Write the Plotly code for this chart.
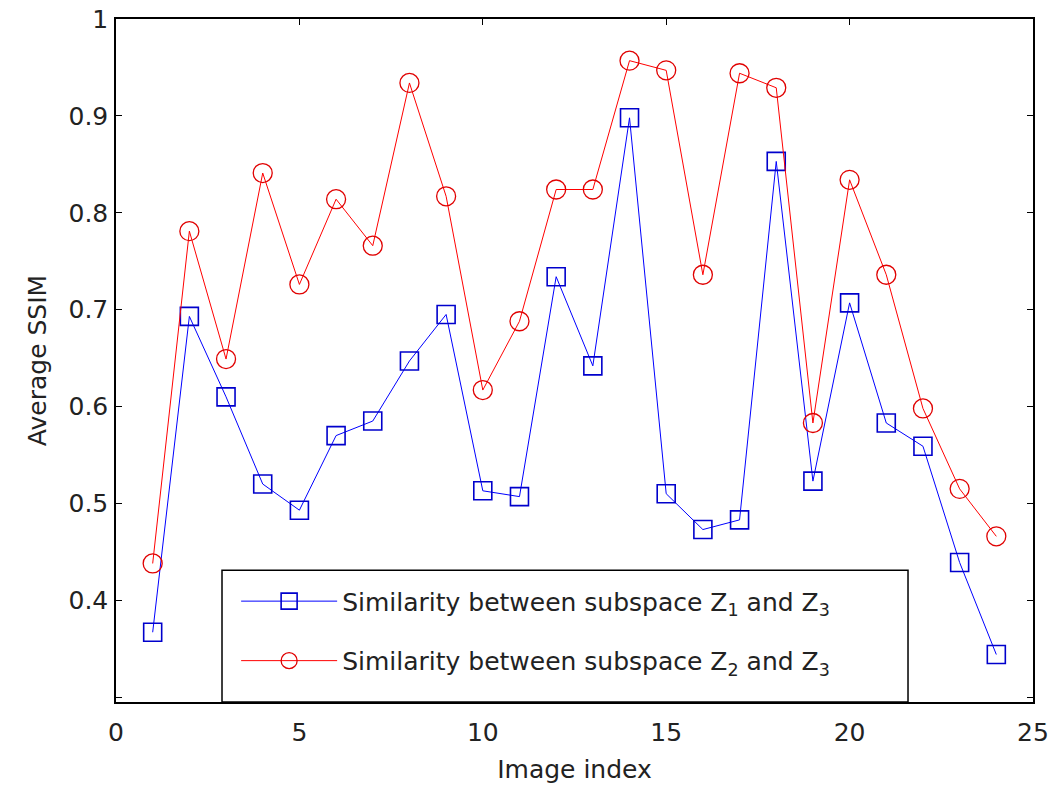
import plotly.graph_objects as go

image_index = list(range(1, 25))
ssim_z1_z3 = [0.367, 0.693, 0.610, 0.520, 0.493, 0.570, 0.585, 0.647, 0.695, 0.513,
              0.507, 0.734, 0.642, 0.898, 0.510, 0.473, 0.483, 0.853, 0.523, 0.707,
              0.583, 0.559, 0.439, 0.344]
ssim_z2_z3 = [0.438, 0.781, 0.649, 0.841, 0.726, 0.814, 0.766, 0.934, 0.817, 0.617,
              0.688, 0.824, 0.824, 0.957, 0.947, 0.736, 0.944, 0.929, 0.583, 0.834,
              0.736, 0.598, 0.515, 0.466]
name_1 = "Similarity between subspace Z<sub>1</sub> and Z<sub>3</sub>"
name_2 = "Similarity between subspace Z<sub>2</sub> and Z<sub>3</sub>"
x_ticks = [0, 5, 10, 15, 20, 25]
y_ticks = [0.3, 0.4, 0.5, 0.6, 0.7, 0.8, 0.9, 1.0]
y_ticktext = ["", "0.4", "0.5", "0.6", "0.7", "0.8", "0.9", "1"]

FONT = "DejaVu Sans"
fig = go.Figure()
fig.add_trace(go.Scatter(
    x=image_index, y=ssim_z1_z3, name=name_1, mode="lines+markers", legendgroup="a",
    line=dict(color="#0000FF", width=1),
    marker=dict(symbol="square-open", size=18, color="#0000CC", line=dict(width=1.6, color="#0000CC")),
))
fig.add_trace(go.Scatter(
    x=image_index, y=ssim_z2_z3, name=name_2, mode="lines+markers", legendgroup="b",
    line=dict(color="#FF0000", width=1),
    marker=dict(symbol="circle-open", size=19, color="#E00000", line=dict(width=1.3, color="#E00000")),
))

fig.add_shape(type="rect", xref="paper", yref="paper", x0=0.1156, x1=0.8637, y0=0, y1=0.193,
              line=dict(color="black", width=1.5), fillcolor="white", layer="above")

fig.update_layout(
    width=1060, height=787,
    margin=dict(l=116, r=27, t=19, b=85, autoexpand=False),
    paper_bgcolor="white", plot_bgcolor="white",
    font=dict(family=FONT, size=25, color="#222222"),
    showlegend=True,
    legend=dict(x=0.131, y=0.181, xanchor="left", yanchor="top", bgcolor="rgba(0,0,0,0)",
                borderwidth=0, itemwidth=96, tracegroupgap=24,
                font=dict(family=FONT, size=25, color="#222222")),
    xaxis=dict(range=[0, 25], tickvals=x_ticks, ticks="inside", ticklen=6, tickwidth=1.2,
               tickcolor="black", showline=True, linecolor="black", linewidth=1.5, mirror="ticks",
               showgrid=False, zeroline=False, ticklabelstandoff=7, automargin=False,
               ticklabeloverflow="allow",
               title=dict(text="Image index", standoff=15, font=dict(size=25))),
    yaxis=dict(range=[0.295, 1.0], tickvals=y_ticks, ticktext=y_ticktext, ticks="inside",
               ticklen=6, tickwidth=1.2, tickcolor="black", showline=True, linecolor="black",
               linewidth=1.5, mirror="ticks", showgrid=False, zeroline=False, ticklabelstandoff=1,
               automargin=False, ticklabeloverflow="allow",
               title=dict(text="Average SSIM", standoff=15, font=dict(size=25))),
)

fig.write_html("out.html", config={"displayModeBar": False},
               post_script="document.body.style.margin='0';")
